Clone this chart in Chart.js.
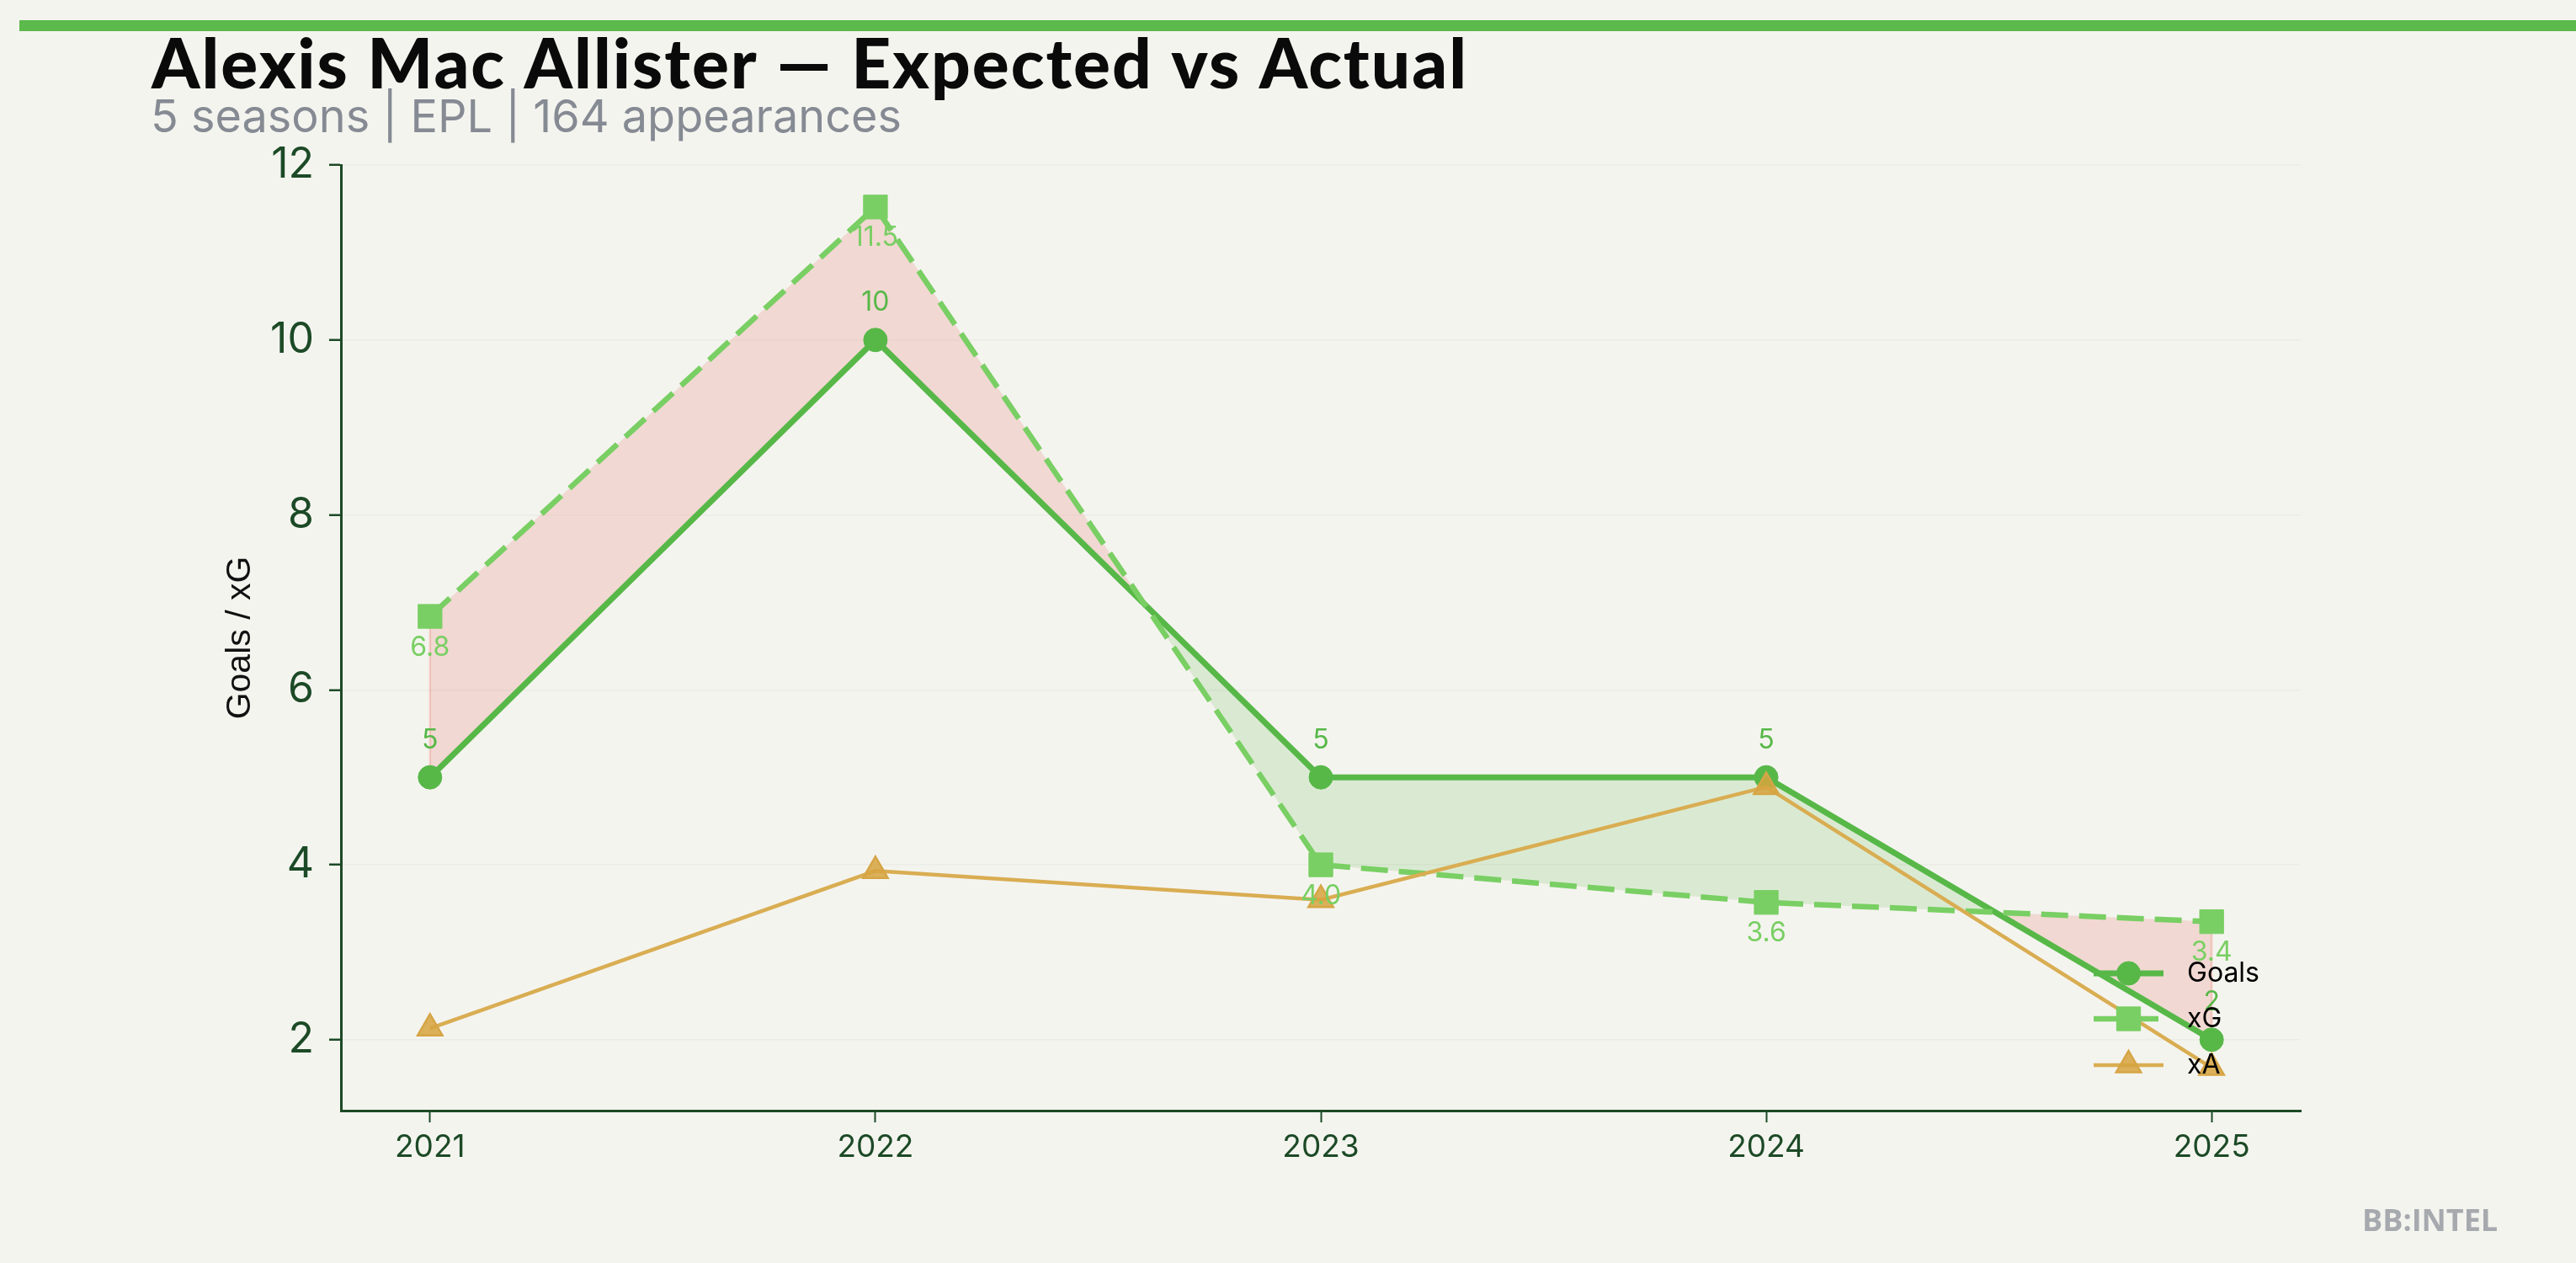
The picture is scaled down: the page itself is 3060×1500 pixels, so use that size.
<!DOCTYPE html>
<html><head><meta charset="utf-8">
<script src="https://cdn.jsdelivr.net/npm/chart.js@4.4.1/dist/chart.umd.min.js"></script>
<style>html,body{margin:0;padding:0;background:#f4f4ef;overflow:hidden}canvas{display:block}</style>
</head><body>
<canvas id="c" width="3060" height="1500"></canvas>
<script>
// ---- data ----
const seasons = [2021, 2022, 2023, 2024, 2025];
const goals = [5, 10, 5, 5, 2];
const xg = [6.84, 11.52, 4.0, 3.57, 3.35];
const xa = [2.13, 3.93, 3.6, 4.89, 1.68];
const yTicks = [2, 4, 6, 8, 10, 12];
const seriesNames = ['Goals', 'xG', 'xA'];
const titleText = 'Alexis Mac Allister \u2014 Expected vs Actual';
const subtitleText = '5 seasons | EPL | 164 appearances';
const yAxisTitle = 'Goals / xG';
const watermarkText = 'BB:INTEL';

// ---- style ----
const BG = '#f4f4ef';
const AXIS = '#1c4a26';
const C_GOALS = '#57b848';
const C_XG = '#79cf63';
const C_XA = '#d9ad52';
const FILL_OVER = 'rgba(90,185,74,0.17)';
const FILL_UNDER = 'rgba(231,76,60,0.16)';

const pts = arr => seasons.map((s, i) => ({x: s, y: arr[i]}));

const decor = {
  id: 'decor',
  beforeDraw(chart) {
    const ctx = chart.ctx;
    ctx.save();
    ctx.fillStyle = BG;
    ctx.fillRect(0, 0, chart.width, chart.height);
    ctx.fillStyle = '#5cb94b';
    ctx.fillRect(23, 24, chart.width - 23, 13);
    ctx.restore();
  },
  beforeDatasetsDraw(chart) {
    // faint edges of the shaded band at the ends
    const ctx = chart.ctx;
    const mg = chart.getDatasetMeta(0).data, mx = chart.getDatasetMeta(1).data;
    ctx.save();
    ctx.lineWidth = 2.5;
    [0, mg.length - 1].forEach(i => {
      ctx.strokeStyle = goals[i] >= xg[i] ? 'rgba(90,185,74,0.25)' : 'rgba(231,76,60,0.22)';
      ctx.beginPath(); ctx.moveTo(mg[i].x, mg[i].y); ctx.lineTo(mx[i].x, mx[i].y); ctx.stroke();
    });
    ctx.restore();
  },
  afterDraw(chart) {
    const ctx = chart.ctx;
    ctx.save();
    ctx.textAlign = 'left';
    ctx.textBaseline = 'alphabetic';
    ctx.fillStyle = '#0a0a0a';
    ctx.font = '900 82px Lato';
    try { ctx.letterSpacing = '2px'; } catch (e) {}
    ctx.fillText(titleText, 180, 105);
    try { ctx.letterSpacing = '0px'; } catch (e) {}
    ctx.fillStyle = '#858a93';
    ctx.font = '400 54px Inter';
    ctx.fillText(subtitleText, 179, 157);
    ctx.fillStyle = '#a6a9ae';
    ctx.font = 'bold 36px "Open Sans"';
    ctx.fillText(watermarkText, 2806, 1462);
    // y-axis title
    const a = chart.chartArea;
    ctx.translate(286, (a.top + a.bottom) / 2);
    ctx.rotate(-Math.PI / 2);
    ctx.textAlign = 'center';
    ctx.textBaseline = 'middle';
    ctx.fillStyle = '#111';
    ctx.font = '41px "Liberation Sans"';
    ctx.fillText(yAxisTitle, 0, 0);
    ctx.restore();
  }
};

function drawMarker(ctx, style, x, y, r, fill, stroke, bw) {
  ctx.save();
  ctx.fillStyle = fill; ctx.strokeStyle = stroke; ctx.lineWidth = bw;
  ctx.setLineDash([]);
  ctx.beginPath();
  if (style === 'circle') {
    ctx.arc(x, y, r, 0, Math.PI * 2);
  } else if (style === 'rect') {
    const s = Math.SQRT1_2 * r;
    ctx.rect(x - s, y - s, 2 * s, 2 * s);
  } else if (style === 'triangle') {
    ctx.moveTo(x, y - r);
    ctx.lineTo(x + 0.866 * r, y + r / 2);
    ctx.lineTo(x - 0.866 * r, y + r / 2);
    ctx.closePath();
  }
  ctx.fill();
  if (bw > 0) ctx.stroke();
  ctx.restore();
}

const labelsAndLegend = {
  id: 'labelsAndLegend',
  afterDatasetsDraw(chart) {
    const ctx = chart.ctx;
    ctx.save();
    ctx.textAlign = 'center';
    ctx.textBaseline = 'middle';
    ctx.font = '32px Inter';
    const mg = chart.getDatasetMeta(0).data;
    ctx.fillStyle = C_GOALS;
    mg.forEach((p, i) => ctx.fillText(String(goals[i]), p.x, p.y - 44));
    const mx = chart.getDatasetMeta(1).data;
    ctx.fillStyle = C_XG;
    mx.forEach((p, i) => ctx.fillText(xg[i].toFixed(1), p.x, p.y + 37));
    ctx.restore();

    // legend (lower right, no frame)
    const a = chart.chartArea;
    const x0 = a.right - 246, x1 = a.right - 163, cx = (x0 + x1) / 2, tx = a.right - 135;
    const rows = [a.bottom - 163, a.bottom - 109, a.bottom - 54];
    chart.data.datasets.forEach((ds, i) => {
      const y = rows[i];
      ctx.save();
      ctx.strokeStyle = ds.borderColor;
      ctx.lineWidth = ds.borderWidth;
      ctx.setLineDash(ds.borderDash || []);
      ctx.beginPath(); ctx.moveTo(x0, y); ctx.lineTo(x1, y); ctx.stroke();
      ctx.restore();
      drawMarker(ctx, ds.pointStyle, cx, y, ds.pointRadius, ds.pointBackgroundColor, ds.pointBorderColor, ds.pointBorderWidth);
      ctx.save();
      ctx.fillStyle = '#000';
      ctx.font = '32px Inter';
      ctx.textAlign = 'left';
      ctx.textBaseline = 'middle';
      ctx.fillText(seriesNames[i], tx, y);
      ctx.restore();
    });
  }
};

new Chart(document.getElementById('c'), {
  type: 'line',
  data: {
    datasets: [
      {
        label: seriesNames[0], data: pts(goals), order: 3,
        borderColor: C_GOALS, borderWidth: 7, tension: 0,
        pointStyle: 'circle', pointRadius: 14, pointBackgroundColor: C_GOALS,
        pointBorderColor: C_GOALS, pointBorderWidth: 1,
        fill: {target: 1, above: FILL_OVER, below: FILL_UNDER}
      },
      {
        label: seriesNames[1], data: pts(xg), order: 2,
        borderColor: C_XG, borderWidth: 6.5, borderDash: [32, 13], tension: 0,
        pointStyle: 'rect', pointRadius: 20, pointBackgroundColor: C_XG,
        pointBorderColor: C_XG, pointBorderWidth: 1, fill: false
      },
      {
        label: seriesNames[2], data: pts(xa), order: 1,
        borderColor: C_XA, borderWidth: 4.5, tension: 0,
        pointStyle: 'triangle', pointRadius: 17, pointBackgroundColor: 'rgba(214,163,62,0.85)',
        pointBorderColor: '#d6a546', pointBorderWidth: 2.5, fill: false
      }
    ]
  },
  options: {
    responsive: false,
    devicePixelRatio: 1,
    animation: false,
    layout: {padding: {left: 0, right: 327, top: 196, bottom: 81}},
    plugins: {
      legend: {display: false},
      tooltip: {enabled: false},
      filler: {drawTime: 'beforeDatasetsDraw'}
    },
    scales: {
      x: {
        type: 'linear', min: 2020.8, max: 2025.2,
        afterBuildTicks: s => { s.ticks = seasons.map(v => ({value: v})); },
        afterFit: s => { s.height = 100; },
        ticks: {callback: v => String(v), color: AXIS, font: {family: 'Inter', size: 37}, padding: 8, autoSkip: false, maxRotation: 0},
        grid: {display: true, drawOnChartArea: false, drawTicks: true, tickLength: 14, tickColor: AXIS, tickWidth: 2},
        border: {display: true, color: AXIS, width: 3}
      },
      y: {
        type: 'linear', min: 1.19, max: 12,
        afterBuildTicks: s => { s.ticks = yTicks.map(v => ({value: v})); },
        afterFit: s => { s.width = 405; },
        ticks: {color: AXIS, font: {family: 'Inter', size: 50}, padding: 18},
        grid: {display: true, drawOnChartArea: true, color: '#ecece6', lineWidth: 1.5, drawTicks: true, tickLength: 14, tickColor: AXIS, tickWidth: 2.5},
        border: {display: true, color: AXIS, width: 3},
        title: {display: false}
      }
    }
  },
  plugins: [decor, labelsAndLegend]
});
</script>
</body></html>
